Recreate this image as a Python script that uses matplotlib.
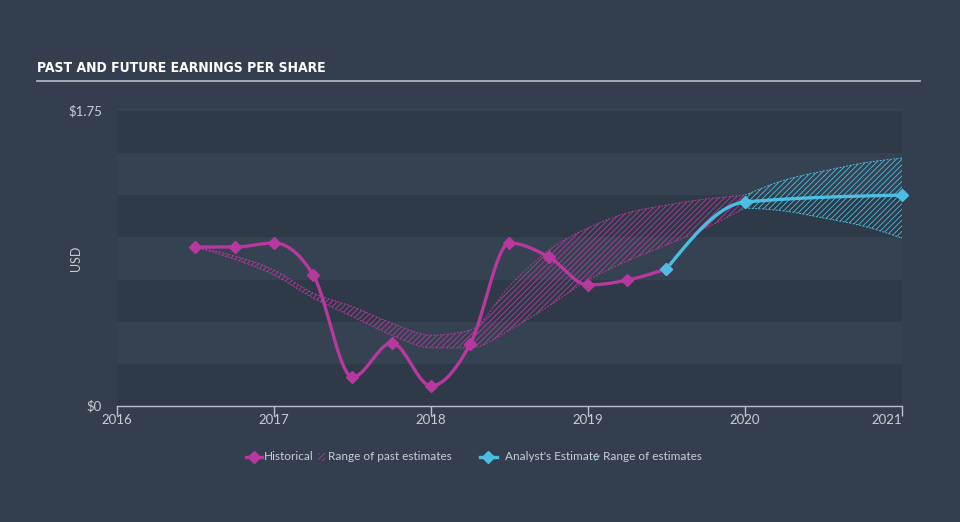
import numpy as np
import matplotlib
matplotlib.use("Agg")
import matplotlib.pyplot as plt
from matplotlib.lines import Line2D
from matplotlib.patches import Rectangle

# ---------------- data ----------------
hist_x = [2016.5, 2016.75, 2017.0, 2017.25, 2017.5, 2017.75, 2018.0, 2018.25,
          2018.5, 2018.75, 2019.0, 2019.25, 2019.5]
hist_y = [0.943, 0.943, 0.967, 0.777, 0.172, 0.374, 0.119, 0.368,
          0.967, 0.884, 0.718, 0.747, 0.813]

est_x = [2019.5, 2020.0, 2021.0]
est_y = [0.813, 1.21, 1.251]

past_rng_x = [2016.5, 2016.75, 2017.0, 2017.25, 2017.5, 2017.75, 2018.0, 2018.25,
              2018.5, 2018.75, 2019.0, 2019.25, 2019.5, 2019.75, 2020.0]
past_rng_hi = [0.943, 0.89, 0.807, 0.670, 0.590, 0.492, 0.420, 0.451,
               0.712, 0.925, 1.056, 1.145, 1.192, 1.228, 1.251]
past_rng_lo = [0.943, 0.87, 0.777, 0.640, 0.530, 0.420, 0.345, 0.344,
               0.451, 0.593, 0.747, 0.860, 0.955, 1.056, 1.174]

fut_rng_x = [2020.0, 2020.25, 2020.5, 2020.75, 2021.0]
fut_rng_hi = [1.251, 1.34, 1.394, 1.441, 1.471]
fut_rng_lo = [1.174, 1.157, 1.115, 1.068, 0.996]

year_ticks = [2016, 2017, 2018, 2019, 2020, 2021]
y_ticks = [0, 1.75]
y_tick_labels = ["$0", "$1.75"]

# ---------------- helpers ----------------
def monotone(x, y, n=40):
    x = np.asarray(x, float); y = np.asarray(y, float)
    h = np.diff(x); s = np.diff(y) / h
    m = np.zeros(len(x))
    for i in range(1, len(x) - 1):
        p = (s[i-1] * h[i] + s[i] * h[i-1]) / (h[i-1] + h[i])
        m[i] = (np.sign(s[i-1]) + np.sign(s[i])) * min(abs(s[i-1]), abs(s[i]), 0.5 * abs(p))
    if len(x) > 2:
        m[0] = (3 * s[0] - m[1]) / 2
        m[-1] = (3 * s[-1] - m[-2]) / 2
    else:
        m[0] = m[-1] = s[0]
    xs, ys = [], []
    for i in range(len(x) - 1):
        t = np.linspace(0, 1, n, endpoint=(i == len(x) - 2))
        h00 = 2*t**3 - 3*t**2 + 1; h10 = t**3 - 2*t**2 + t
        h01 = -2*t**3 + 3*t**2; h11 = t**3 - t**2
        xs.append(x[i] + t * h[i])
        ys.append(h00*y[i] + h10*h[i]*m[i] + h01*y[i+1] + h11*h[i]*m[i+1])
    return np.concatenate(xs), np.concatenate(ys)

# ---------------- style ----------------
BG = "#333f4e"
BAND_DARK = "#2e3a48"
BAND_LIGHT = "#344251"
MAG = "#b8389f"
CYAN = "#4bbfe3"
TXT = "#c9ced4"
FONT = "Lato"

plt.rcParams['hatch.linewidth'] = 0.6

fig = plt.figure(figsize=(9.6, 5.22), dpi=100, facecolor=BG)
ax = fig.add_axes([117/960, (522-406)/522, 785/960, 298/522])
ax.set_facecolor(BAND_LIGHT)
ax.set_xlim(2016, 2021)
ax.set_ylim(0, 1.75 * 298/295)

for k in range(7):
    ax.axhspan(k*0.25, (k+1)*0.25, color=BAND_DARK if k % 2 == 0 else BAND_LIGHT, lw=0, zorder=0)

# ranges
px, phi = monotone(past_rng_x, past_rng_hi)
_, plo = monotone(past_rng_x, past_rng_lo)
ax.fill_between(px, plo, phi, facecolor="none", edgecolor=MAG, hatch="//////", lw=0, zorder=2)
ax.plot(px, phi, color=MAG, lw=0.7, ls=(0, (2, 1.5)), zorder=2)
ax.plot(px, plo, color=MAG, lw=0.7, ls=(0, (2, 1.5)), zorder=2)

fx, fhi = monotone(fut_rng_x, fut_rng_hi)
_, flo = monotone(fut_rng_x, fut_rng_lo)
ax.fill_between(fx, flo, fhi, facecolor="none", edgecolor=CYAN, hatch="//////", lw=0, zorder=2)
ax.plot(fx, fhi, color=CYAN, lw=0.7, ls=(0, (2, 1.5)), zorder=2)
ax.plot(fx, flo, color=CYAN, lw=0.7, ls=(0, (2, 1.5)), zorder=2)

# lines
hx, hy = monotone(hist_x, hist_y)
ax.plot(hx, hy, color=MAG, lw=2.4, zorder=4, solid_capstyle="round")
ax.plot(hist_x, hist_y, ls="none", marker="D", ms=6, color=MAG, zorder=5)
ex, ey = monotone(est_x, est_y)
ax.plot(ex, ey, color=CYAN, lw=2.4, zorder=4, solid_capstyle="round")
ax.plot(est_x, est_y, ls="none", marker="D", ms=6, color=CYAN, zorder=5, clip_on=False)

# axes
for sp in ["top", "right", "left"]:
    ax.spines[sp].set_visible(False)
ax.spines["bottom"].set_color("#b9c1ca")
ax.spines["bottom"].set_linewidth(1)
ax.set_xticks(year_ticks)
ax.set_xticklabels([str(y) for y in year_ticks], family=FONT)
ax.tick_params(axis="x", colors="#b9c1ca", labelcolor=TXT, length=7, width=1,
               direction="out", labelsize=9.5, pad=-1)
ax.get_xticklabels()[-1].set_ha("right")
ax.set_yticks([])
for v, lab in zip(y_ticks, y_tick_labels):
    ax.text(-0.019, v, lab, transform=ax.get_yaxis_transform(), ha="right", va="center",
            color=TXT, fontsize=9.5, family=FONT)
fig.text(76/960, 1 - 258/522, "USD", rotation=90, ha="center", va="center", color=TXT,
         fontsize=9, family=FONT)

# title
fig.text(37/960, 1 - 68/522, "PAST AND FUTURE EARNINGS PER SHARE", ha="left", va="center",
         color="white", fontsize=10, fontweight="bold", family="DejaVu Sans",
         fontstretch="condensed")
fig.add_artist(Line2D([37/960, 920/960], [1 - 81/522, 1 - 81/522], color="#b9bec4", lw=1.2))

# legend
ly = 1 - 457/522
LFS = 8.5
fig.add_artist(Line2D([246/960, 262/960], [ly, ly], color=MAG, lw=2.4))
fig.add_artist(Line2D([254/960], [ly], marker="D", ms=6, color=MAG))
fig.text(264/960, ly, "Historical", color=TXT, fontsize=LFS, va="center", ha="left", family=FONT)
fig.add_artist(Rectangle((318/960, ly - 4/522), 7/960, 8/522, facecolor="none",
                         edgecolor=MAG, hatch="//////", lw=0))
fig.text(328/960, ly, "Range of past estimates", color=TXT, fontsize=LFS, va="center",
         ha="left", family=FONT)
fig.add_artist(Line2D([480/960, 497/960], [ly, ly], color=CYAN, lw=2.4))
fig.add_artist(Line2D([488/960], [ly], marker="D", ms=6, color=CYAN))
fig.text(505/960, ly, "Analyst's Estimate", color=TXT, fontsize=LFS, va="center", ha="left",
         family=FONT)
fig.add_artist(Rectangle((593/960, ly - 4/522), 7/960, 8/522, facecolor="none",
                         edgecolor=CYAN, hatch="//////", lw=0))
fig.text(603/960, ly, "Range of estimates", color=TXT, fontsize=LFS, va="center", ha="left",
         family=FONT)

fig.savefig("out.png", dpi=100, facecolor=BG)
